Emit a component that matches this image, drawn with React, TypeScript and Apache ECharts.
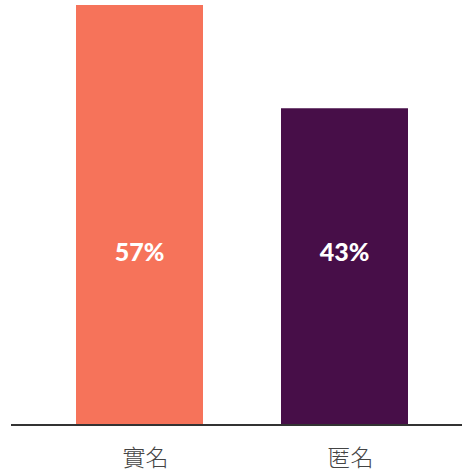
import React, { useEffect, useRef } from "react";
import * as echarts from "echarts";

const categories = ["實名", "匿名"];
const values = [57, 43];
const colors = ["#F6735A", "#470E48"];

export default function App() {
  const ref = useRef<HTMLDivElement>(null);
  useEffect(() => {
    const chart = echarts.init(ref.current!, null, { renderer: "svg" });
    chart.setOption({
      animation: false,
      grid: { left: 37, right: 15, top: 5, bottom: 46 },
      xAxis: {
        type: "category",
        data: categories,
        axisLine: { show: false },
        axisTick: { show: false },
        axisLabel: {
          fontSize: 23,
          lineHeight: 23,
          color: "#444",
          fontFamily: "Noto Sans CJK TC",
          fontWeight: 300,
          margin: 19,
          padding: [0, 0, 0, 12],
        },
      },
      yAxis: {
        type: "value",
        min: 0,
        max: 57,
        show: false,
        splitLine: { show: false },
      },
      graphic: [
        {
          type: "line",
          shape: { x1: 11, y1: 425, x2: 462, y2: 425 },
          style: { stroke: "#333", lineWidth: 2 },
          z: 10,
        },
      ],
      series: [
        {
          type: "bar",
          barWidth: 127,
          data: values.map((v, i) => ({ value: v, itemStyle: { color: colors[i] } })),
          label: {
            show: true,
            position: "insideBottom",
            distance: 162,
            formatter: "{c}%",
            color: "#fff",
            fontSize: 25,
            fontWeight: 900,
            fontFamily: "Lato",
          },
        },
      ],
    });
    return () => chart.dispose();
  }, []);
  return <div ref={ref} style={{ width: 462, height: 471, position: "absolute", left: 0, top: 0 }} />;
}
